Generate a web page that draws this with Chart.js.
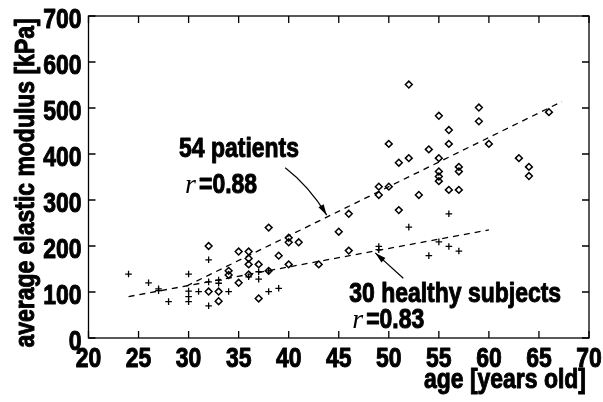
<!DOCTYPE html>
<html lang="en">
<head>
<meta charset="UTF-8">
<title>Elastic modulus vs age</title>
<script src="https://cdn.jsdelivr.net/npm/chart.js"></script>
<style>
  body { margin: 0; background: #fff; }
  canvas { display: block; }
</style>
</head>
<body>
<canvas id="grafico" width="603" height="402"></canvas>
<script>
// patients (diamonds)
const patientAge = [32, 32, 33, 33, 34, 34, 35, 35, 36, 36, 36, 36, 37, 37, 38, 38, 39, 40, 40, 40,
  41, 43, 45, 46, 46, 49, 49, 50, 50, 51, 51, 52, 52, 53, 54, 55, 55, 55, 55, 55,
  56, 56, 56, 57, 57, 57, 59, 59, 60, 63, 64, 64, 66];
const patientModulus = [200, 101, 101, 80, 146, 137, 188, 120, 188, 173, 160, 138, 160, 86, 240, 146, 179, 218, 208, 160,
  208, 160, 231, 270, 190, 329, 311, 329, 422, 381, 278, 551, 391, 311, 410, 483, 391, 362, 351, 341,
  452, 422, 322, 372, 362, 322, 501, 471, 422, 391, 372, 352, 491];

// healthy subjects (crosses)
const healthyAge = [24, 26, 27, 27, 28, 30, 30, 30, 30, 31, 32, 32, 32, 33, 33, 34, 36, 37, 37, 38,
  38, 39, 49, 49, 52, 54, 55, 56, 56, 57];
const healthyModulus = [139, 120, 107, 103, 79, 139, 102, 90, 79, 101, 170, 122, 70, 126, 119, 101, 133, 144, 128, 146,
  101, 108, 199, 192, 241, 179, 209, 270, 199, 189];

// regression lines
const patientFitAge = [29.8, 67.3];
const patientFitModulus = [113, 514];
const healthyFitAge = [24, 60];
const healthyFitModulus = [90, 235];

// ticks
const ageTicks = [20, 25, 30, 35, 40, 45, 50, 55, 60, 65, 70];
const modulusTicks = [0, 100, 200, 300, 400, 500, 600, 700];

// no narrow font installed: Liberation Sans bold squeezed horizontally
const FONTE = "bold 28px 'Liberation Sans', Arial, sans-serif";
const APERTO = 0.82;

function pontos(xs, ys) {
  return xs.map((v, i) => ({ x: v, y: ys[i] }));
}

function escreve(ctx, txt, px, py, align) {
  ctx.save();
  ctx.translate(px, py);
  ctx.scale(APERTO, 1);
  ctx.font = FONTE;
  ctx.textAlign = align;
  ctx.textBaseline = 'alphabetic';
  ctx.lineWidth = 1;
  ctx.lineJoin = 'round';
  ctx.strokeText(txt, 0, 0);
  ctx.fillText(txt, 0, 0);
  ctx.restore();
}

// caixa, ticks internos, rotulos, titulos e anotacoes
const extras = {
  id: 'extras',
  afterDraw(chart) {
    const { ctx, chartArea: a, scales: { x, y } } = chart;
    ctx.save();
    ctx.strokeStyle = '#000';
    ctx.fillStyle = '#000';
    ctx.lineWidth = 1.3;
    ctx.strokeRect(a.left, a.top, a.right - a.left, a.bottom - a.top);

    ctx.beginPath();
    ageTicks.forEach(v => {
      const px = x.getPixelForValue(v);
      ctx.moveTo(px, a.bottom); ctx.lineTo(px, a.bottom - 7);
      ctx.moveTo(px, a.top); ctx.lineTo(px, a.top + 7);
    });
    modulusTicks.forEach(v => {
      const py = y.getPixelForValue(v);
      ctx.moveTo(a.left, py); ctx.lineTo(a.left + 7, py);
      ctx.moveTo(a.right, py); ctx.lineTo(a.right - 7, py);
    });
    ctx.stroke();

    // rotulos dos ticks
    x.ticks.forEach(t => {
      escreve(ctx, String(t.value), x.getPixelForValue(t.value), a.bottom + 29, 'center');
    });
    y.ticks.forEach(t => {
      escreve(ctx, String(t.value), a.left - 7, y.getPixelForValue(t.value) + 12, 'right');
    });

    // titulos dos eixos
    escreve(ctx, 'age [years old]', 586, 388, 'right');
    ctx.save();
    ctx.translate(34, 183);
    ctx.rotate(-Math.PI / 2);
    escreve(ctx, 'average elastic modulus [kPa]', 0, 0, 'center');
    ctx.restore();

    // textos das anotacoes
    function coef(ax, ay, valor) {
      const px = x.getPixelForValue(ax);
      const py = y.getPixelForValue(ay);
      ctx.textAlign = 'left';
      ctx.font = 'italic 28px "Liberation Serif", serif';
      ctx.fillText('r', px, py);
      const w = ctx.measureText('r').width;
      escreve(ctx, '=' + valor, px + w + 3, py, 'left');
    }
    escreve(ctx, '54 patients', x.getPixelForValue(29.05), y.getPixelForValue(393), 'left');
    coef(29.65, 315, '0.88');
    escreve(ctx, '30 healthy subjects', x.getPixelForValue(46.05), y.getPixelForValue(78), 'left');
    coef(46.35, 21, '0.83');

    // setas
    function ponta(x0, y0, x1, y1) {
      const ang = Math.atan2(y1 - y0, x1 - x0);
      ctx.beginPath();
      ctx.moveTo(x1, y1);
      ctx.lineTo(x1 - 11 * Math.cos(ang) + 3 * Math.sin(ang), y1 - 11 * Math.sin(ang) - 3 * Math.cos(ang));
      ctx.lineTo(x1 - 11 * Math.cos(ang) - 3 * Math.sin(ang), y1 - 11 * Math.sin(ang) + 3 * Math.cos(ang));
      ctx.closePath();
      ctx.fill();
    }
    ctx.lineWidth = 1.2;
    let s0 = [x.getPixelForValue(39.65), y.getPixelForValue(370)];
    let c = [x.getPixelForValue(42.05), y.getPixelForValue(330)];
    let s1 = [x.getPixelForValue(43.8), y.getPixelForValue(267)];
    ctx.beginPath();
    ctx.moveTo(s0[0], s0[1]);
    ctx.quadraticCurveTo(c[0], c[1], s1[0], s1[1]);
    ctx.stroke();
    ponta(c[0], c[1], s1[0], s1[1]);

    s0 = [x.getPixelForValue(51.45), y.getPixelForValue(130)];
    s1 = [x.getPixelForValue(48.65), y.getPixelForValue(185)];
    ctx.beginPath();
    ctx.moveTo(s0[0], s0[1]);
    ctx.lineTo(s1[0], s1[1]);
    ctx.stroke();
    ponta(s0[0], s0[1], s1[0], s1[1]);

    ctx.restore();
  }
};

const config = {
  type: 'scatter',
  data: {
    datasets: [
      {
        label: '54 patients',
        data: pontos(patientAge, patientModulus),
        pointStyle: 'rectRot',
        pointRadius: 3.4,
        borderColor: '#000',
        backgroundColor: 'rgba(255,255,255,0)',
        borderWidth: 1.5
      },
      {
        label: '30 healthy subjects',
        data: pontos(healthyAge, healthyModulus),
        pointStyle: 'cross',
        pointRadius: 3.3,
        borderColor: '#000',
        borderWidth: 1.3
      },
      {
        label: 'fit patients',
        data: pontos(patientFitAge, patientFitModulus),
        showLine: true,
        pointRadius: 0,
        borderColor: '#000',
        borderWidth: 1.3,
        borderDash: [6, 5]
      },
      {
        label: 'fit healthy',
        data: pontos(healthyFitAge, healthyFitModulus),
        showLine: true,
        pointRadius: 0,
        borderColor: '#000',
        borderWidth: 1.3,
        borderDash: [6, 5]
      }
    ]
  },
  options: {
    responsive: false,
    animation: false,
    layout: { padding: { top: 16, right: 14, left: 0, bottom: 0 } },
    plugins: {
      legend: { display: false },
      tooltip: { enabled: false }
    },
    scales: {
      x: {
        type: 'linear',
        min: 20,
        max: 70,
        afterBuildTicks: s => { s.ticks = ageTicks.map(v => ({ value: v })); },
        afterFit: s => { s.height = 64; },
        grid: { display: false, drawTicks: false },
        border: { display: false },
        ticks: { display: false }
      },
      y: {
        type: 'linear',
        min: 0,
        max: 700,
        afterBuildTicks: s => { s.ticks = modulusTicks.map(v => ({ value: v })); },
        afterFit: s => { s.width = 88.5; },
        grid: { display: false, drawTicks: false },
        border: { display: false },
        ticks: { display: false }
      }
    }
  },
  plugins: [extras]
};

new Chart(document.getElementById('grafico'), config);
</script>
</body>
</html>
